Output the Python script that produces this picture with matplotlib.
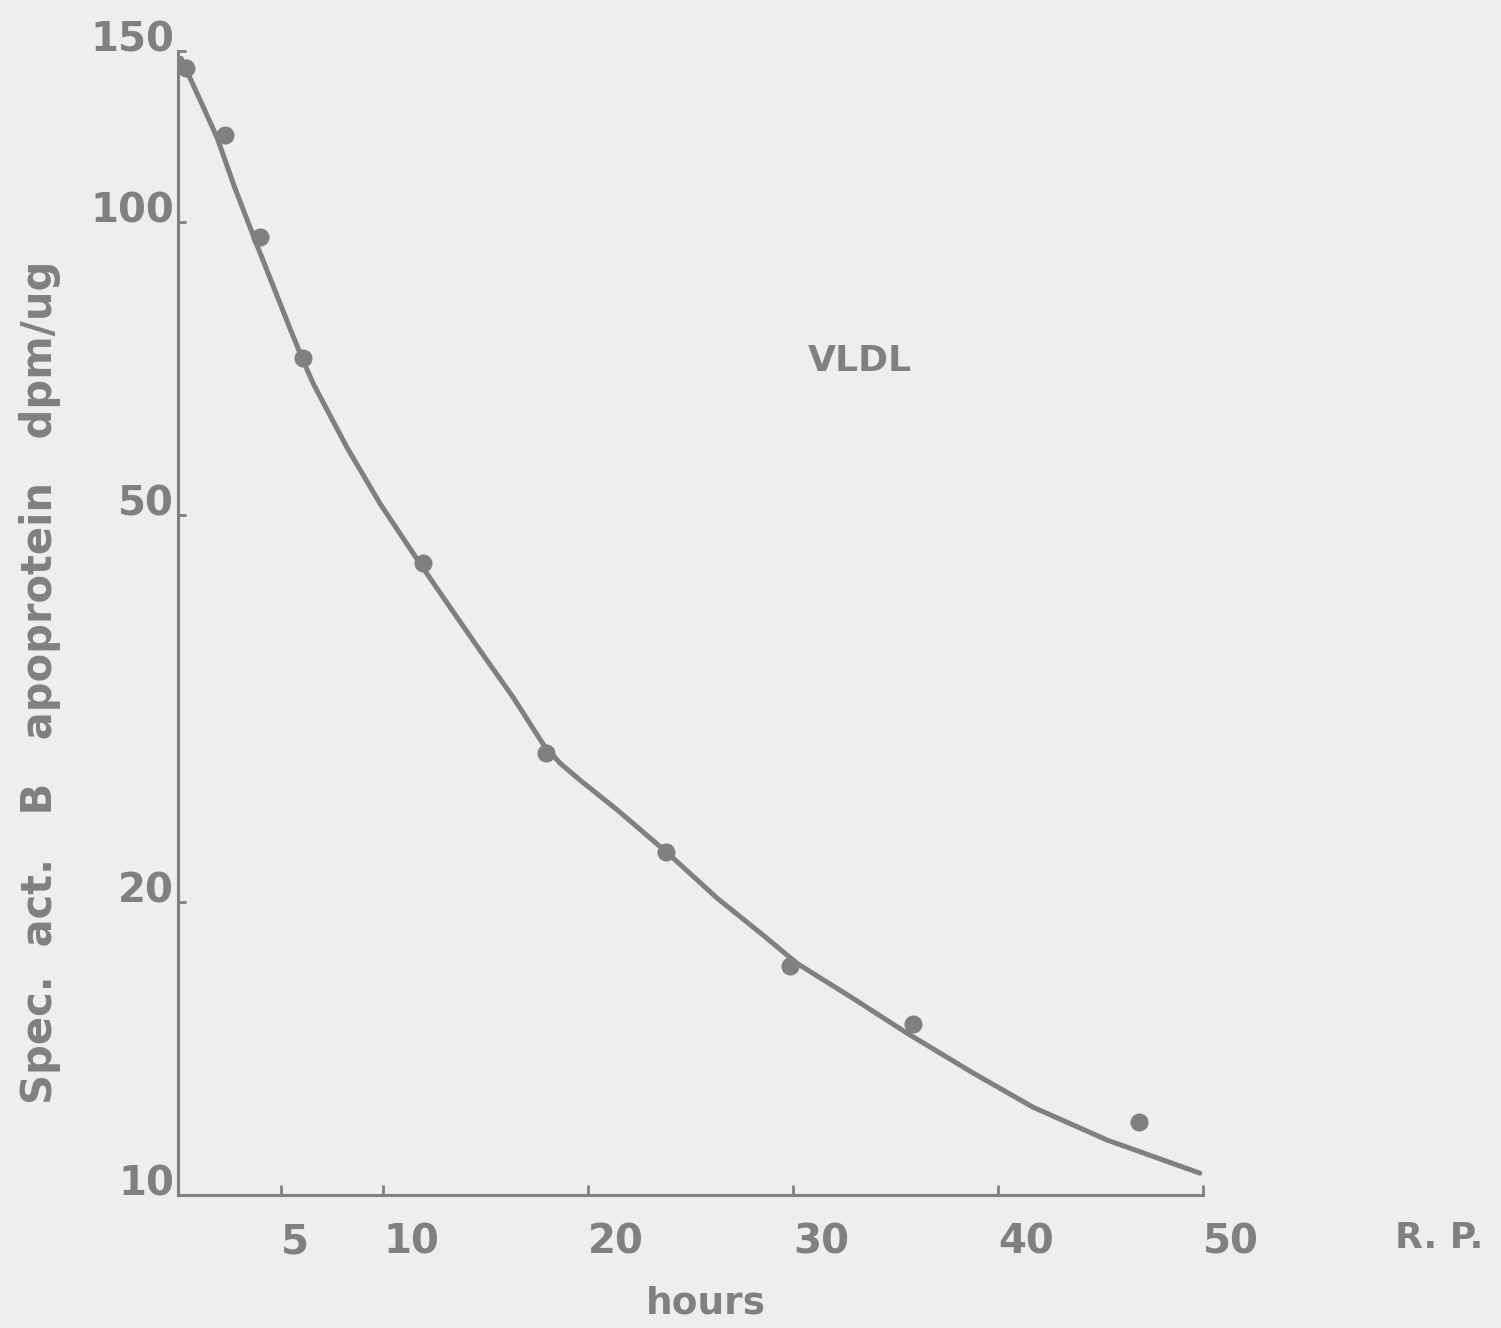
import matplotlib
matplotlib.use("Agg")
from matplotlib import pyplot as plt
from matplotlib.ticker import NullLocator, FixedLocator

# measured points (hours, dpm/ug)
hours = [0.4, 2.3, 4.0, 6.1, 11.95, 17.95, 23.8, 29.85, 35.85, 46.9]
spec_act = [144, 123, 96.5, 72.5, 44.6, 28.5, 22.5, 17.2, 15.0, 11.9]

# hand-drawn fitted curve
curve_x = [0.15, 1.16, 1.90, 2.78, 3.76, 4.73, 5.46, 6.10, 6.59, 8.24, 9.85,
           11.80, 13.27, 14.73, 16.34, 17.80, 18.63, 19.61, 21.41, 23.85,
           26.29, 28.54, 30.20, 32.78, 35.56, 38.78, 41.71, 45.32, 49.85]
curve_y = [147.4, 132.4, 122.3, 108.4, 95.8, 85.1, 77.8, 72.1, 68.3, 58.7, 51.4,
           44.6, 40.2, 36.3, 32.5, 29.1, 27.8, 26.7, 24.9, 22.5,
           20.2, 18.5, 17.3, 16.0, 14.67, 13.35, 12.31, 11.39, 10.53]

xticks = [5, 10, 20, 30, 40, 50]
yticks = [10, 20, 50, 100, 150]

ink = '#808080'
paper = '#eeeeec'
font = dict(family='DejaVu Sans', weight='bold', color=ink)

fig = plt.figure(figsize=(15.01, 13.28), dpi=100, facecolor=paper)
ax = fig.add_axes([178 / 1501, 1 - 1195 / 1328, 1025 / 1501, 1144 / 1328])
ax.set_facecolor(paper)

ax.plot(curve_x, curve_y, color=ink, lw=3.6, solid_capstyle='round',
        solid_joinstyle='round')
ax.plot(hours, spec_act, 'o', color=ink, ms=13, mec='none')

ax.set_yscale('log')
ax.set_xlim(0, 50)
ax.set_ylim(10, 150)

for s in ['top', 'right']:
    ax.spines[s].set_visible(False)
for s in ['left', 'bottom']:
    ax.spines[s].set_color(ink)
    ax.spines[s].set_linewidth(2.2)

ax.xaxis.set_major_locator(FixedLocator(xticks))
ax.xaxis.set_minor_locator(NullLocator())
ax.yaxis.set_major_locator(FixedLocator(yticks))
ax.yaxis.set_minor_locator(NullLocator())
ax.set_xticklabels([str(t) for t in xticks], ha='left', **font, fontsize=29)
ax.set_yticklabels([str(t) for t in yticks], va='baseline', **font, fontsize=29)
ax.tick_params(axis='x', direction='in', length=7, width=2, color=ink, pad=20)
ax.tick_params(axis='y', direction='in', length=6, width=2, color=ink, pad=3)

fig.text(40 / 1501, 1 - 682 / 1328, 'Spec.  act.   B   apoprotein   dpm/ug',
         rotation=90, ha='center', va='center', fontsize=30, **font)
ax.text(0.515, -0.095, 'hours', transform=ax.transAxes, ha='center', va='center',
        fontsize=27, **font)
ax.text(1.23, -0.038, 'R. P.', transform=ax.transAxes, ha='center', va='center',
        fontsize=26, **font)
ax.text(0.665, 0.729, 'VLDL', transform=ax.transAxes, ha='center', va='center',
        fontsize=26, **font)

fig.savefig('out.png', dpi=100, facecolor=paper)
